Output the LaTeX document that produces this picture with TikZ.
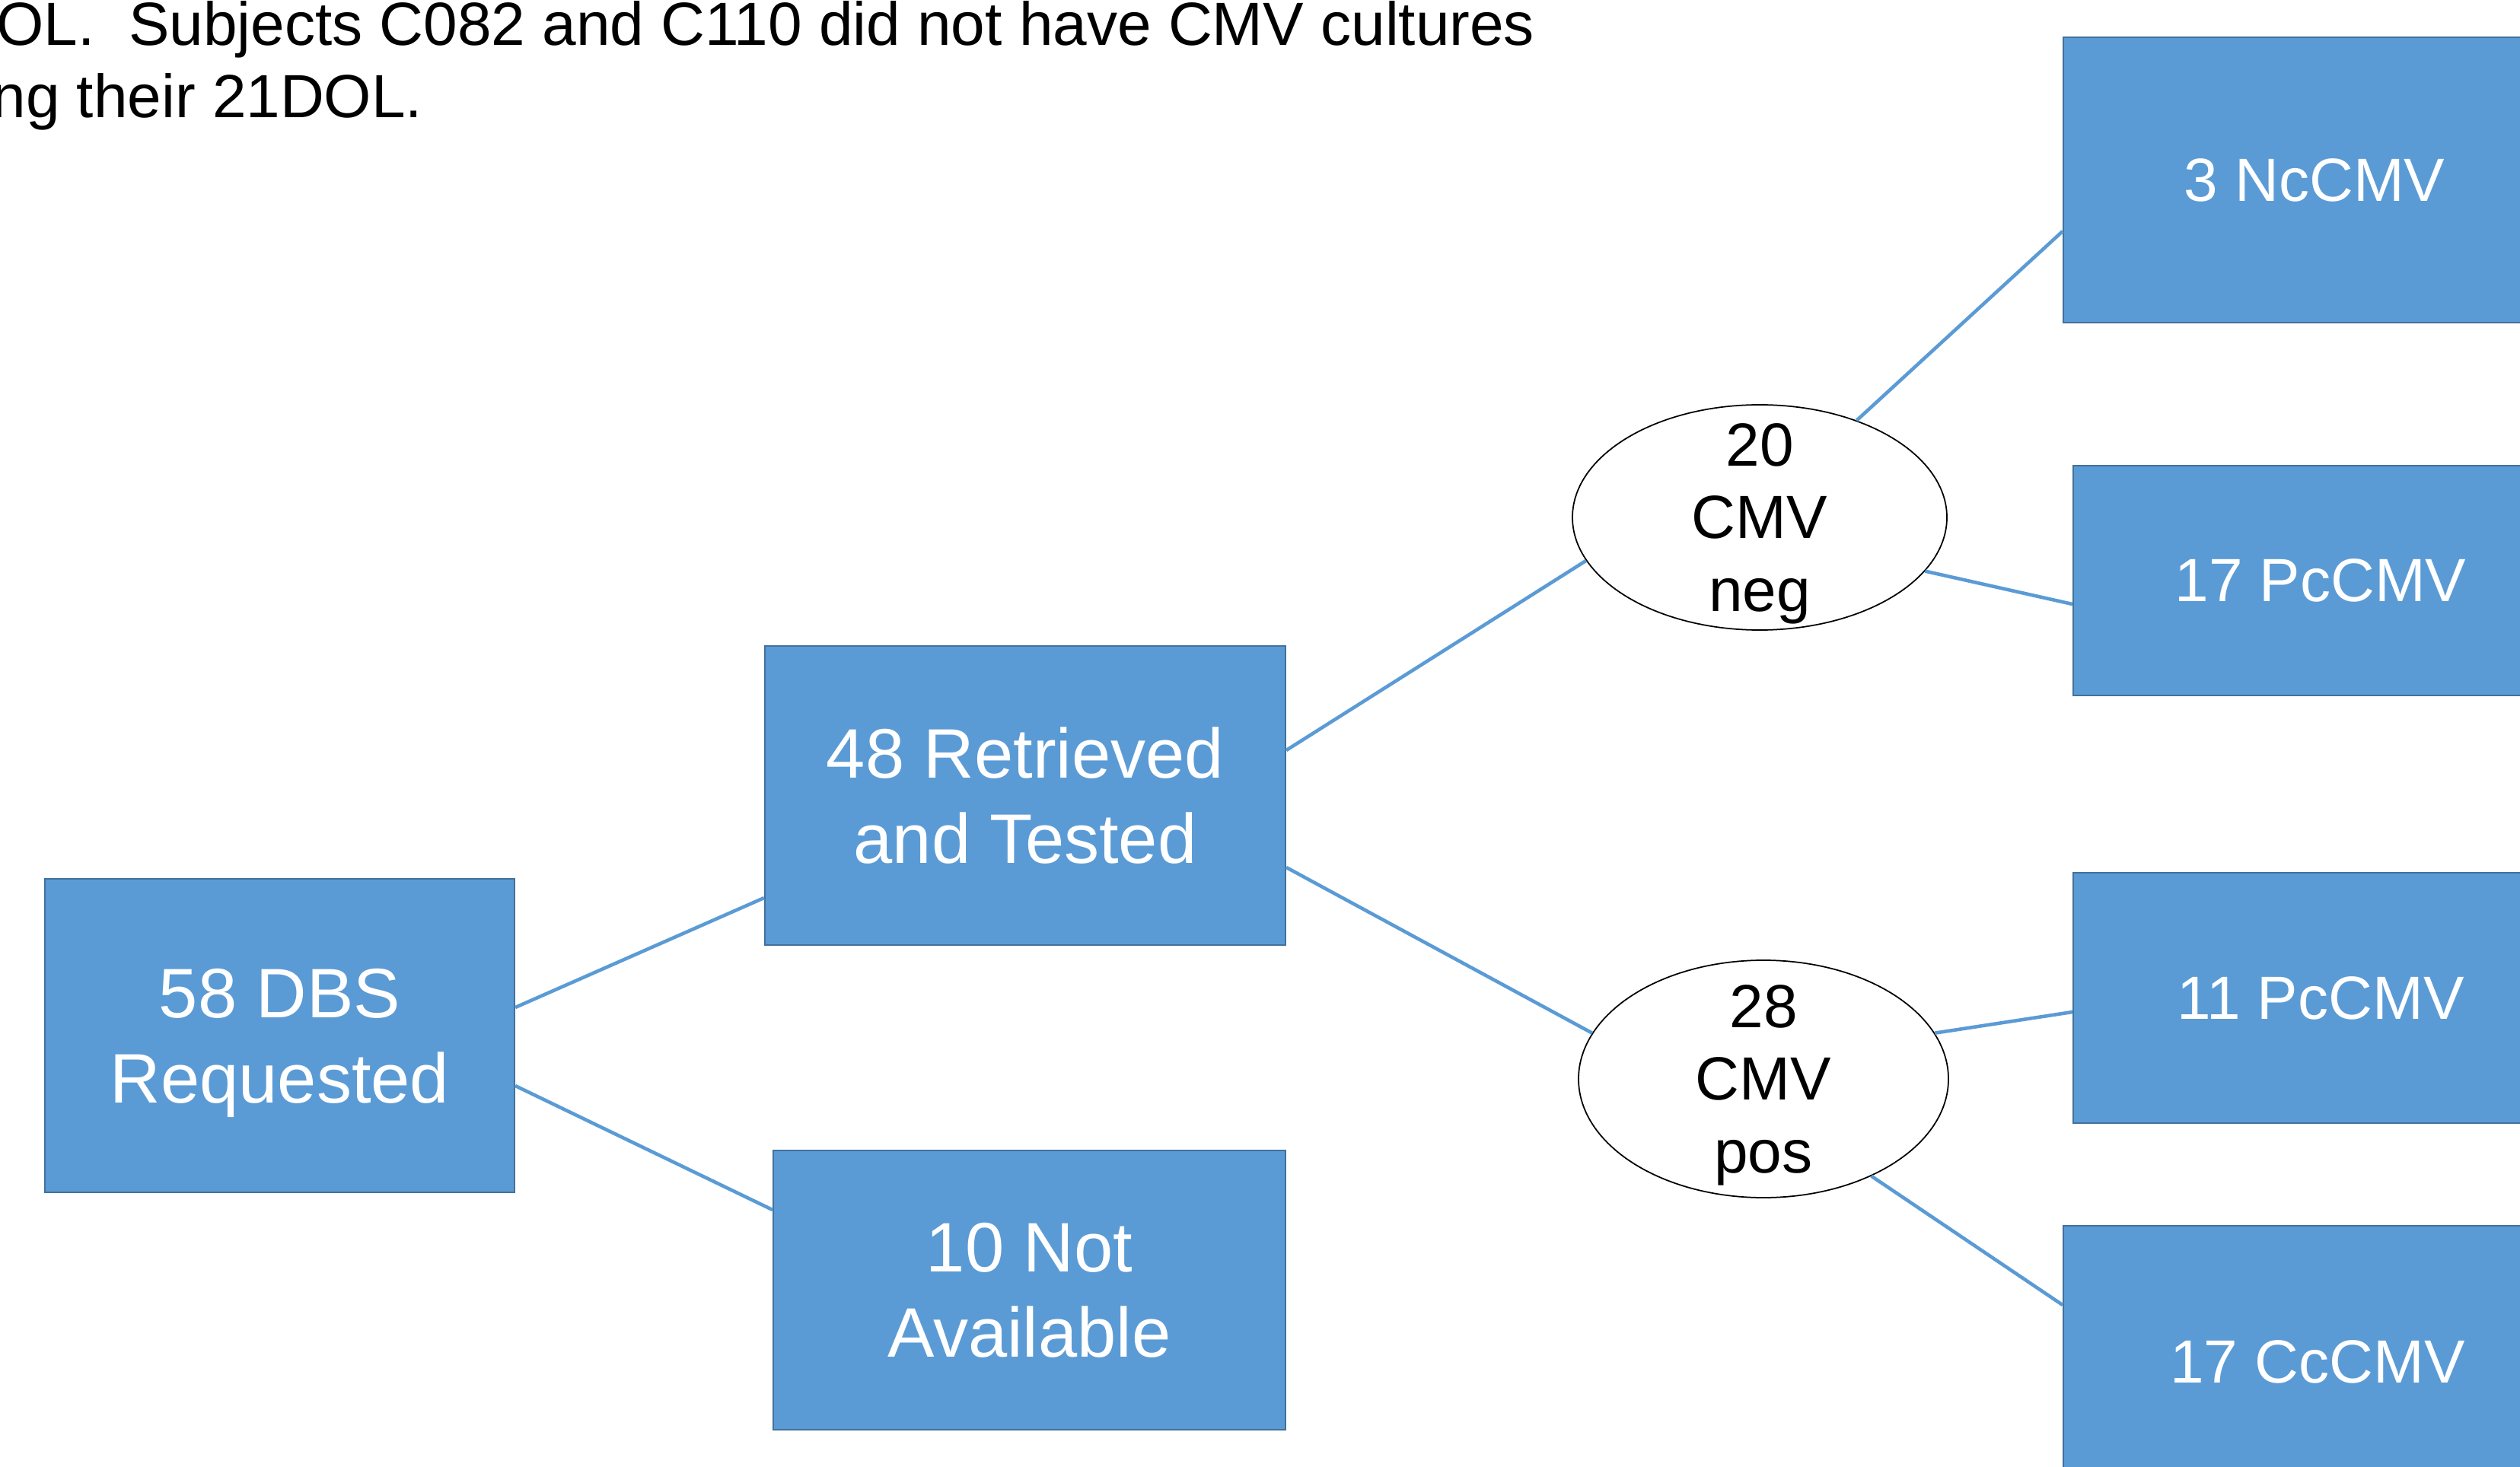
\documentclass[tikz,border=0pt]{standalone}
\usepackage{fontspec}
\setmainfont{Liberation Sans}
\usetikzlibrary{shapes.geometric}
\definecolor{boxblue}{HTML}{5B9BD5}
\definecolor{boxedge}{HTML}{41719C}

\begin{document}
\begin{tikzpicture}[
  box/.style={rectangle, fill=boxblue, draw=boxedge, line width=0.6pt, text=white, align=center, inner sep=0pt, text depth=0pt},
  bigtxt/.style={font=\fontsize{26.2}{31.9}\selectfont},
  smalltxt/.style={font=\fontsize{22.8}{27.3}\selectfont},
  oval/.style={ellipse, draw=black, line width=0.5pt, fill=white, inner sep=0pt},
  ovaltxt/.style={align=center, inner sep=0pt, text depth=0pt, font=\fontsize{22.8}{27.3}\selectfont},
  link/.style={boxblue, line width=1.3pt}
]
\useasboundingbox (0,0) rectangle (33.11,19.27);
\clip (0,0) rectangle (33.11,19.27);

% note at the top
\node[anchor=base east, inner sep=0pt, smalltxt] (note1) at (20.17,18.67) {DOL.\ \ Subjects C082 and C110 did not have CMV cultures};
\node[anchor=base east, inner sep=0pt, smalltxt] (note2) at (5.56,17.72) {ng their 21DOL.};

% first level
\node[box, bigtxt, minimum width=6.17cm, minimum height=4.12cm] (dbs) at (3.675,5.66) {58 DBS\\Requested};
\node[box, bigtxt, minimum width=6.84cm, minimum height=3.93cm] (tested) at (13.47,8.815) {48 Retrieved\\and Tested};
\node[box, bigtxt, minimum width=6.73cm, minimum height=3.67cm] (notavail) at (13.525,2.315) {10 Not\\Available};

% culture result
\node[oval, minimum width=4.92cm, minimum height=2.96cm,
  label={[ovaltxt]center:{20\\CMV\\neg}}] (neg) at (23.12,12.47) {};
\node[oval, minimum width=4.86cm, minimum height=3.12cm,
  label={[ovaltxt]center:{28\\CMV\\pos}}] (pos) at (23.17,5.09) {};

% outcome boxes
\node[box, smalltxt, minimum width=6.6cm, minimum height=3.75cm] (nc) at (30.41,16.905) {3 NcCMV};
\node[box, smalltxt, minimum width=6.5cm, minimum height=3.02cm] (pcneg) at (30.49,11.64) {17 PcCMV};
\node[box, smalltxt, minimum width=6.5cm, minimum height=3.29cm] (pcpos) at (30.49,6.155) {11 PcCMV};
\node[box, smalltxt, minimum width=6.68cm, minimum height=3.58cm] (cc) at (30.45,1.37) {17 CcCMV};

\draw[link] ([yshift=3.7mm]dbs.east) -- ([yshift=-13.45mm]tested.west);
\draw[link] ([yshift=-6.6mm]dbs.east) -- ([yshift=10.55mm]notavail.west);
\draw[link] ([yshift=5.95mm]tested.east) -- (neg.194);
\draw[link] ([yshift=-9.45mm]tested.east) -- (pos.165);
\draw[link] (neg.45) -- ([yshift=-6.75mm]nc.west);
\draw[link] (neg.342) -- ([yshift=-3.1mm]pcneg.west);
\draw[link] (pos.15) -- ([yshift=-1.85mm]pcpos.west);
\draw[link] (pos.318) -- ([yshift=7.5mm]cc.west);
\end{tikzpicture}
\end{document}
